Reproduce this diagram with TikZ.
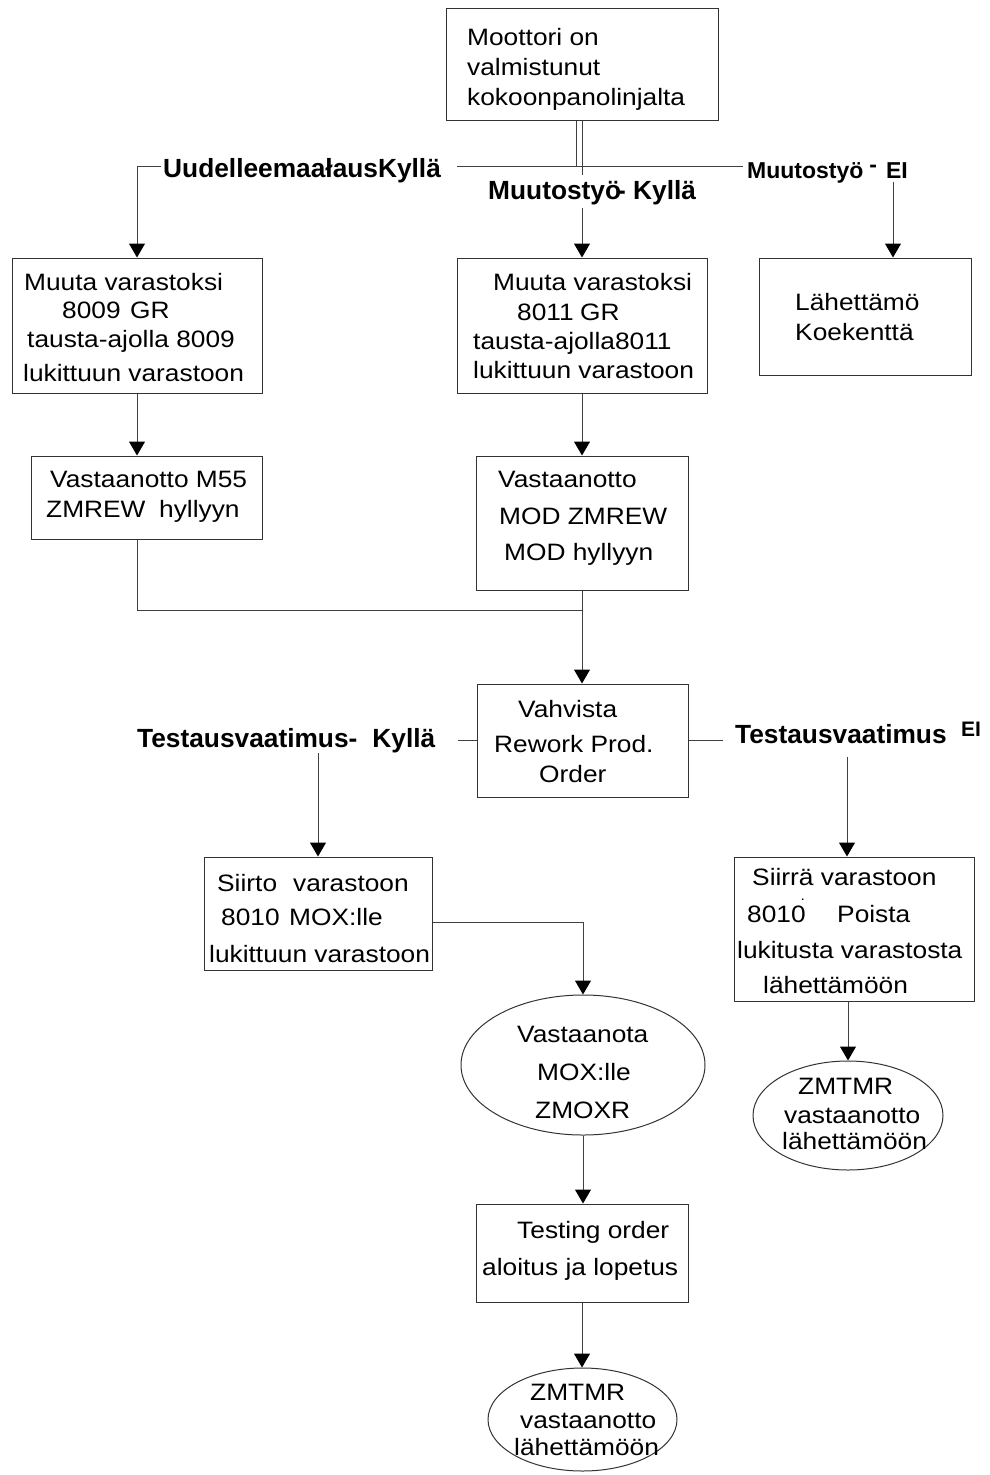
\documentclass[tikz,border=0pt]{standalone}
\usepackage{fontspec}
\setmainfont{Liberation Sans}[FakeStretch=1.11]
\newfontfamily\labelfont{Liberation Sans}[BoldFont={Liberation Sans Bold}]
\usetikzlibrary{arrows.meta,shapes.geometric}

\begin{document}
\begin{tikzpicture}[x=1pt,y=-1pt,
  box/.style={draw=black!80, line width=1pt, rectangle, inner sep=0pt},
  oval/.style={draw=black!80, line width=1pt, ellipse, inner sep=0pt},
  txt/.style={anchor=base west, inner sep=0pt, font=\fontsize{23.7}{28}\selectfont},
  lbl/.style={anchor=base west, inner sep=0pt, font=\labelfont\bfseries\fontsize{26.3}{30}\selectfont},
  smalllbl/.style={lbl, font=\labelfont\bfseries\fontsize{23}{26}\selectfont},
  tinylbl/.style={lbl, font=\labelfont\bfseries\fontsize{21}{24}\selectfont},
  link/.style={draw=black!75, line width=1pt},
  arr/.style={link, -{Triangle[length=14pt,width=16pt,color=black,fill=black]}},
]
\useasboundingbox (0,0) rectangle (990,1475);

% process steps
\node[box, minimum width=272pt, minimum height=112pt] (top) at (582,64) {};
\node[box, minimum width=250pt, minimum height=135pt] (b1) at (137,325.5) {};
\node[box, minimum width=231pt, minimum height=83pt]  (b2) at (146.5,497.5) {};
\node[box, minimum width=250pt, minimum height=135pt] (m1) at (582,325.5) {};
\node[box, minimum width=212pt, minimum height=134pt] (m2) at (582,523) {};
\node[box, minimum width=212pt, minimum height=117pt] (r1) at (865,316.5) {};
\node[box, minimum width=211pt, minimum height=113pt] (vah) at (582.5,740.5) {};
\node[box, minimum width=228pt, minimum height=113pt] (s1) at (318,913.5) {};
\node[box, minimum width=240pt, minimum height=144pt] (s2) at (854,929) {};
\node[oval, minimum width=244pt, minimum height=140pt] (e1) at (583,1065) {};
\node[box, minimum width=212pt, minimum height=98pt]  (t1) at (582,1253) {};
\node[oval, minimum width=189pt, minimum height=103pt] (e2) at (582.5,1419.5) {};
\node[oval, minimum width=190pt, minimum height=109pt] (e3) at (848,1115.5) {};

% texts of the steps
\node[txt] (top-1) at (467,45) {Moottori on};
\node[txt] (top-2) at (467,75) {valmistunut};
\node[txt] (top-3) at (467,105) {kokoonpanolinjalta};

\node[txt] (b1-1) at (24,290) {Muuta varastoksi};
\node[txt] (b1-2) at (62,318) {8009};
\node[txt] (b1-3) at (130,318) {GR};
\node[txt] (b1-4) at (27,347) {tausta-ajolla 8009};
\node[txt] (b1-5) at (23,381) {lukittuun varastoon};

\node[txt] (b2-1) at (50,487) {Vastaanotto M55};
\node[txt] (b2-2) at (46,517) {ZMREW};
\node[txt] (b2-3) at (159,517) {hyllyyn};

\node[txt] (m1-1) at (493,290) {Muuta varastoksi};
\node[txt] (m1-2) at (517,320) {8011};
\node[txt] (m1-3) at (580,320) {GR};
\node[txt] (m1-4) at (473,349) {tausta-ajolla8011};
\node[txt] (m1-5) at (473,378) {lukittuun varastoon};

\node[txt] (m2-1) at (498,487) {Vastaanotto};
\node[txt] (m2-2) at (499,524) {MOD ZMREW};
\node[txt] (m2-3) at (504,560) {MOD hyllyyn};

\node[txt] (r1-1) at (795,310) {Lähettämö};
\node[txt] (r1-2) at (795,340) {Koekenttä};

\node[txt] (vah-1) at (518,717) {Vahvista};
\node[txt] (vah-2) at (494,752) {Rework Prod.};
\node[txt] (vah-3) at (539,782) {Order};

\node[txt] (s1-1) at (217,891) {Siirto};
\node[txt] (s1-2) at (293,891) {varastoon};
\node[txt] (s1-3) at (221,925) {8010};
\node[txt] (s1-4) at (289,925) {MOX:lle};
\node[txt] (s1-5) at (209,962) {lukittuun varastoon};

\node[txt] (s2-1) at (752,885) {Siirrä varastoon};
\node[txt] (s2-2) at (747,922) {8010\kern-5pt\raisebox{22pt}{\fontsize{14}{14}\selectfont .}};
\node[txt] (s2-3) at (837,922) {Poista};
\node[txt] (s2-4) at (737,958) {lukitusta varastosta};
\node[txt] (s2-5) at (763,993) {lähettämöön};

\node[txt] (e1-1) at (517,1042) {Vastaanota};
\node[txt] (e1-2) at (537,1080) {MOX:lle};
\node[txt] (e1-3) at (535,1118) {ZMOXR};

\node[txt] (t1-1) at (517,1238) {Testing order};
\node[txt] (t1-2) at (482,1275) {aloitus ja lopetus};

\node[txt] (e2-1) at (530,1400) {ZMTMR};
\node[txt] (e2-2) at (520,1428) {vastaanotto};
\node[txt] (e2-3) at (514,1455) {lähettämöön};

\node[txt] (e3-1) at (798,1094) {ZMTMR};
\node[txt] (e3-2) at (784,1123) {vastaanotto};
\node[txt] (e3-3) at (782,1149) {lähettämöön};

% branch labels
\node[lbl] (uud) at (163,177) {UudelleemaałausKyllä};
\node[lbl] (mk) at (488,199) {Muutostyö\kern-4pt- Kyllä};
\node[smalllbl] (muEI) at (747,178) {Muutostyö\hspace{6pt}\raisebox{6pt}{-}\hspace{9pt}EI};
\node[lbl] (tk) at (137,747) {Testausvaatimus-\hspace{15pt}Kyllä};
\node[lbl] (te) at (735,743) {Testausvaatimus};
\node[tinylbl] (teEI) at (961,736) {EI};

% junctions and free line ends
\coordinate (jA) at (576,166);
\coordinate (hL) at (457,166);
\coordinate (hR) at (743,166);
\coordinate (uL) at (161,166);
\coordinate (mkA) at (582,175);
\coordinate (mkB) at (582,208);
\coordinate (eiX) at (893,182);
\coordinate (mj) at (582,610);
\coordinate (vL) at (458,740.5);
\coordinate (vR) at (723,740.5);
\coordinate (tkD) at (318,753);
\coordinate (teD) at (847,757);

% connectors
\draw[link] (top.south -| jA) -- (jA);
\draw[link] (hL) -- (hR);
\draw[arr] (uL) -| (b1.north);
\draw[link] (top.south -| m1.north) -- (mkA);
\draw[arr] (mkB) -- (m1.north);
\draw[arr] (eiX) -- (r1.north -| eiX);
\draw[arr] (b1.south) -- (b2.north -| b1.south);
\draw[arr] (m1.south) -- (m2.north);
\draw[link] (b2.south -| b1.south) |- (mj);
\draw[arr] (m2.south) -- (m2.south |- vah.north);
\draw[link] (vah.west) -- (vL);
\draw[link] (vah.east) -- (vR);
\draw[arr] (tkD) -- (s1.north);
\draw[arr] (teD) -- (s2.north -| teD);
\draw[arr] ([yshift=-8.5pt]s1.east) -| (e1.north);
\draw[arr] (e1.south) -- (e1.south |- t1.north);
\draw[arr] (t1.south) -- (t1.south |- e2.north);
\draw[arr] (s2.south -| e3.north) -- (e3.north);
\end{tikzpicture}
\end{document}
